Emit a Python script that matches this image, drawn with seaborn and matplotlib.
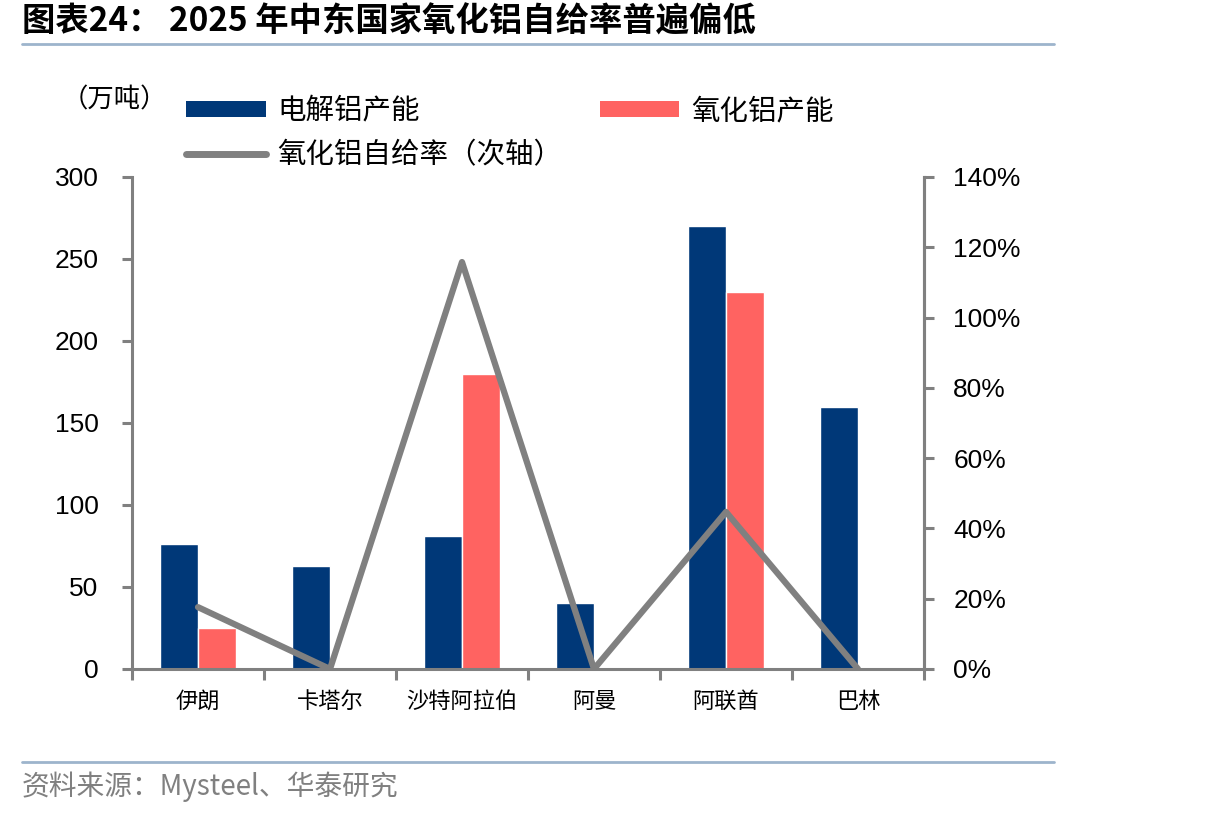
import numpy as np
import pandas as pd
import matplotlib
matplotlib.use("Agg")
import matplotlib.pyplot as plt
import seaborn as sns
from matplotlib.patches import Patch
from matplotlib.lines import Line2D
from matplotlib.ticker import FuncFormatter

# ---- data ----
countries = ["伊朗", "卡塔尔", "沙特阿拉伯", "阿曼", "阿联酋", "巴林"]
electrolytic_cap = [76, 63, 81, 40, 270, 160]   # 电解铝产能 (万吨)
alumina_cap = [25, 0, 180, 0, 230, 0]           # 氧化铝产能 (万吨)
self_suff = [17.6, 0, 115.8, 0, 44.7, 0]        # 氧化铝自给率 (%)
series_names = ["电解铝产能", "氧化铝产能"]
line_name = "氧化铝自给率（次轴）"
left_ticks = [0, 50, 100, 150, 200, 250, 300]
right_ticks = [0, 20, 40, 60, 80, 100, 120, 140]

BLUE = "#003878"
RED = "#FF6361"
GREY = "#808080"

sns.set_theme(style="white")
plt.rcParams["font.family"] = ["Noto Sans CJK SC", "DejaVu Sans"]
plt.rcParams["text.color"] = "black"
plt.rcParams["xtick.labelcolor"] = "black"
plt.rcParams["ytick.labelcolor"] = "black"

df = pd.DataFrame({
    "country": countries * 2,
    "value": electrolytic_cap + alumina_cap,
    "series": [series_names[0]] * len(countries) + [series_names[1]] * len(countries),
})

fig = plt.figure(figsize=(12.06, 8.16), dpi=100)
ax = fig.add_axes([132 / 1206, 1 - 669 / 816, (924 - 132) / 1206, (669 - 177) / 816])

sns.barplot(data=df, x="country", y="value", hue="series", order=countries,
            hue_order=series_names, palette=[BLUE, RED], width=0.576, gap=0,
            saturation=1, ax=ax, legend=False)
ax.set_xlim(-0.5, len(countries) - 0.5)
ax.set_ylim(0, 300)
ax.set_yticks(left_ticks)
ax.set_xlabel("")
ax.set_ylabel("")

ax2 = ax.twinx()
sns.lineplot(x=np.arange(len(countries)), y=self_suff, ax=ax2, color=GREY,
             linewidth=4.5, legend=False)
ax2.set_ylim(0, 140)
ax2.set_yticks(right_ticks)
ax2.yaxis.set_major_formatter(FuncFormatter(lambda v, p: f"{v:.0f}%"))
ax2.set_ylabel("")
ax2.set_xlim(-0.5, len(countries) - 0.5)

for a in (ax, ax2):
    a.spines["top"].set_visible(False)
    for s in ["left", "right", "bottom"]:
        a.spines[s].set_color(GREY)
        a.spines[s].set_linewidth(2.2)
ax2.spines["left"].set_visible(False)
ax2.spines["bottom"].set_visible(False)

ax.tick_params(axis="y", which="major", direction="out", length=7, width=2.2,
               color=GREY, pad=17, left=True, labelsize=19, labelcolor="black")
for lbl in ax.get_yticklabels():
    lbl.set_fontfamily(["Liberation Sans", "DejaVu Sans"])
ax2.tick_params(axis="y", which="major", direction="out", length=7, width=2.2,
                color=GREY, pad=14, right=True, labelsize=19, labelcolor="black")
for lbl in ax2.get_yticklabels():
    lbl.set_fontfamily(["Liberation Sans", "DejaVu Sans"])

# x ticks at category boundaries, labels at centers
ax.set_xticks(np.arange(len(countries)))
ax.set_xticklabels(countries, fontsize=16)
ax.tick_params(axis="x", which="major", length=0, pad=15, labelcolor="black")
ax.set_xticks(np.arange(-0.5, len(countries) + 0.5, 1), minor=True)
ax.tick_params(axis="x", which="minor", direction="out", length=8, width=2.2,
               color=GREY, bottom=True)
ax.grid(False)
ax2.grid(False)

# legend
handles = [Patch(facecolor=BLUE, edgecolor="none", label=series_names[0]),
           Line2D([0], [0], color=GREY, linewidth=5, label=line_name),
           Patch(facecolor=RED, edgecolor="none", label=series_names[1])]
fig.legend(handles=handles, loc="upper left", bbox_to_anchor=(186 / 1206, 1 - 96 / 816),
           ncol=2, frameon=False, fontsize=20.5, handlelength=2.8, handleheight=0.52,
           handletextpad=0.42, columnspacing=1.3, labelspacing=0.5, borderpad=0,
           borderaxespad=0, labelcolor="black")

fig.text(62 / 1206, 1 - 100 / 816, "（万吨）", fontsize=19, ha="left", va="center",
         color="black")

# title and decorations
fig.text(22 / 1206, 1 - 22 / 816, "图表24： 2025 年中东国家氧化铝自给率普遍偏低",
         fontsize=24, fontweight="bold", ha="left", va="center", color="black")
fig.add_artist(Line2D([22 / 1206, 1054 / 1206], [1 - 44 / 816, 1 - 44 / 816],
                      color="#9DB4CC", linewidth=2))
fig.add_artist(Line2D([22 / 1206, 1054 / 1206], [1 - 762 / 816, 1 - 762 / 816],
                      color="#9DB4CC", linewidth=2))
fig.text(22 / 1206, 1 - 787 / 816, "资料来源：Mysteel、华泰研究", fontsize=20,
         color="#808080", ha="left", va="center")

fig.savefig("out.png", dpi=100)
